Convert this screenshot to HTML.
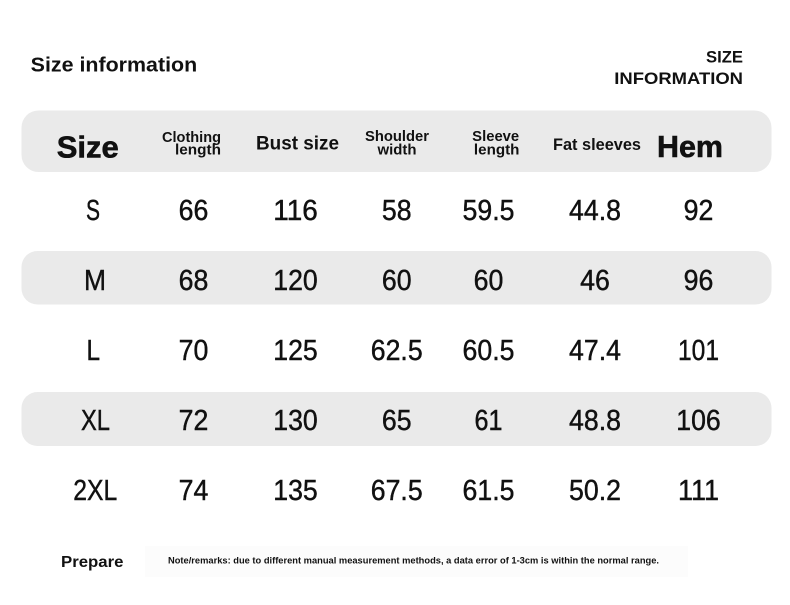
<!DOCTYPE html>
<html>
<head>
<meta charset="utf-8">
<style>
  html,body{margin:0;padding:0;background:#fff;}
  svg{display:block;}
  text{font-family:"Liberation Sans","Noto Sans CJK SC",sans-serif;fill:#111;}
  .b{font-weight:bold;}
  .v text{stroke:#111;stroke-width:0.45px;}
</style>
</head>
<body>
<svg width="790" height="605" viewBox="0 0 790 605" xmlns="http://www.w3.org/2000/svg">
  <rect x="0" y="0" width="790" height="605" fill="#ffffff"/>
  <!-- faint note background -->
  <rect x="145" y="546" width="543" height="31" fill="#fcfcfc"/>

  <!-- bands -->
  <rect x="21.5" y="110.5" width="750" height="61.5" rx="17" ry="17" fill="#eaeaea"/>
  <rect x="21.5" y="251" width="750" height="53.5" rx="16" ry="16" fill="#eaeaea"/>
  <rect x="21.5" y="392" width="750" height="54" rx="16" ry="16" fill="#eaeaea"/>

  <!-- titles -->
  <text class="b" x="30.7" y="71.7" font-size="20.5" textLength="166.5" lengthAdjust="spacingAndGlyphs">Size information</text>
  <text class="b" x="743" y="62.3" font-size="16.5" text-anchor="end" textLength="37" lengthAdjust="spacingAndGlyphs">SIZE</text>
  <text class="b" x="743" y="84" font-size="16.5" text-anchor="end" textLength="128.7" lengthAdjust="spacingAndGlyphs">INFORMATION</text>

  <!-- header -->
  <text class="b" x="56.7" y="157.3" font-size="31" textLength="62" lengthAdjust="spacingAndGlyphs" stroke="#111" stroke-width="0.6">Size</text>
  <text class="b" x="221" y="142" font-size="14.5" text-anchor="end" textLength="59" lengthAdjust="spacingAndGlyphs">Clothing</text>
  <text class="b" x="221" y="154.5" font-size="14.5" text-anchor="end" textLength="46" lengthAdjust="spacingAndGlyphs">length</text>
  <text class="b" x="256" y="149.5" font-size="19.5" textLength="83" lengthAdjust="spacingAndGlyphs">Bust size</text>
  <text class="b" x="397" y="141" font-size="14.5" text-anchor="middle" textLength="64" lengthAdjust="spacingAndGlyphs">Shoulder</text>
  <text class="b" x="397" y="154.5" font-size="14.5" text-anchor="middle" textLength="39" lengthAdjust="spacingAndGlyphs">width</text>
  <text class="b" x="495.7" y="141" font-size="14.5" text-anchor="middle" textLength="47" lengthAdjust="spacingAndGlyphs">Sleeve</text>
  <text class="b" x="496.7" y="154.5" font-size="14.5" text-anchor="middle" textLength="45.5" lengthAdjust="spacingAndGlyphs">length</text>
  <text class="b" x="553" y="150" font-size="17" textLength="88" lengthAdjust="spacingAndGlyphs">Fat sleeves</text>
  <text class="b" x="657" y="157" font-size="30.5" textLength="66" lengthAdjust="spacingAndGlyphs" stroke="#111" stroke-width="0.6">Hem</text>

  <!-- row S -->
  <g class="v">
    <text x="93" y="220" text-anchor="middle" font-size="29" textLength="14" lengthAdjust="spacingAndGlyphs">S</text>
    <text x="193.5" y="220" text-anchor="middle" font-size="29" textLength="29.7" lengthAdjust="spacingAndGlyphs">66</text>
    <text x="295.5" y="220" text-anchor="middle" font-size="29" textLength="44.5" lengthAdjust="spacingAndGlyphs">116</text>
    <text x="396.7" y="220" text-anchor="middle" font-size="29" textLength="29.7" lengthAdjust="spacingAndGlyphs">58</text>
    <text x="488.5" y="220" text-anchor="middle" font-size="29" textLength="51.9" lengthAdjust="spacingAndGlyphs">59.5</text>
    <text x="595" y="220" text-anchor="middle" font-size="29" textLength="51.9" lengthAdjust="spacingAndGlyphs">44.8</text>
    <text x="698.5" y="220" text-anchor="middle" font-size="29" textLength="29.7" lengthAdjust="spacingAndGlyphs">92</text>
  </g>
  <!-- row M -->
  <g class="v">
    <text x="95" y="290" text-anchor="middle" font-size="29" textLength="22" lengthAdjust="spacingAndGlyphs">M</text>
    <text x="193.5" y="290" text-anchor="middle" font-size="29" textLength="29.7" lengthAdjust="spacingAndGlyphs">68</text>
    <text x="295.5" y="290" text-anchor="middle" font-size="29" textLength="44.5" lengthAdjust="spacingAndGlyphs">120</text>
    <text x="396.7" y="290" text-anchor="middle" font-size="29" textLength="29.7" lengthAdjust="spacingAndGlyphs">60</text>
    <text x="488.5" y="290" text-anchor="middle" font-size="29" textLength="29.7" lengthAdjust="spacingAndGlyphs">60</text>
    <text x="595" y="290" text-anchor="middle" font-size="29" textLength="29.7" lengthAdjust="spacingAndGlyphs">46</text>
    <text x="698.5" y="290" text-anchor="middle" font-size="29" textLength="29.7" lengthAdjust="spacingAndGlyphs">96</text>
  </g>
  <!-- row L -->
  <g class="v">
    <text x="93.3" y="360" text-anchor="middle" font-size="29" textLength="13.5" lengthAdjust="spacingAndGlyphs">L</text>
    <text x="193.5" y="360" text-anchor="middle" font-size="29" textLength="29.7" lengthAdjust="spacingAndGlyphs">70</text>
    <text x="295.5" y="360" text-anchor="middle" font-size="29" textLength="44.5" lengthAdjust="spacingAndGlyphs">125</text>
    <text x="396.7" y="360" text-anchor="middle" font-size="29" textLength="51.9" lengthAdjust="spacingAndGlyphs">62.5</text>
    <text x="488.5" y="360" text-anchor="middle" font-size="29" textLength="51.9" lengthAdjust="spacingAndGlyphs">60.5</text>
    <text x="595" y="360" text-anchor="middle" font-size="29" textLength="51.9" lengthAdjust="spacingAndGlyphs">47.4</text>
    <text x="698.5" y="360" text-anchor="middle" font-size="29" textLength="41" lengthAdjust="spacingAndGlyphs">101</text>
  </g>
  <!-- row XL -->
  <g class="v">
    <text x="95.5" y="430" text-anchor="middle" font-size="29" textLength="29" lengthAdjust="spacingAndGlyphs">XL</text>
    <text x="193.5" y="430" text-anchor="middle" font-size="29" textLength="29.7" lengthAdjust="spacingAndGlyphs">72</text>
    <text x="295.5" y="430" text-anchor="middle" font-size="29" textLength="44.5" lengthAdjust="spacingAndGlyphs">130</text>
    <text x="396.7" y="430" text-anchor="middle" font-size="29" textLength="29.7" lengthAdjust="spacingAndGlyphs">65</text>
    <text x="488.5" y="430" text-anchor="middle" font-size="29" textLength="28" lengthAdjust="spacingAndGlyphs">61</text>
    <text x="595" y="430" text-anchor="middle" font-size="29" textLength="51.9" lengthAdjust="spacingAndGlyphs">48.8</text>
    <text x="698.5" y="430" text-anchor="middle" font-size="29" textLength="44.5" lengthAdjust="spacingAndGlyphs">106</text>
  </g>
  <!-- row 2XL -->
  <g class="v">
    <text x="95.3" y="500" text-anchor="middle" font-size="29" textLength="44" lengthAdjust="spacingAndGlyphs">2XL</text>
    <text x="193.5" y="500" text-anchor="middle" font-size="29" textLength="29.7" lengthAdjust="spacingAndGlyphs">74</text>
    <text x="295.5" y="500" text-anchor="middle" font-size="29" textLength="44.5" lengthAdjust="spacingAndGlyphs">135</text>
    <text x="396.7" y="500" text-anchor="middle" font-size="29" textLength="51.9" lengthAdjust="spacingAndGlyphs">67.5</text>
    <text x="488.5" y="500" text-anchor="middle" font-size="29" textLength="51.9" lengthAdjust="spacingAndGlyphs">61.5</text>
    <text x="595" y="500" text-anchor="middle" font-size="29" textLength="51.9" lengthAdjust="spacingAndGlyphs">50.2</text>
    <text x="698.5" y="500" text-anchor="middle" font-size="29" textLength="41" lengthAdjust="spacingAndGlyphs">111</text>
  </g>

  <!-- footer -->
  <text class="b" x="61" y="567" font-size="16" textLength="62.5" lengthAdjust="spacingAndGlyphs">Prepare</text>
  <text class="b" x="168" y="563.5" font-size="8.8" textLength="491" lengthAdjust="spacingAndGlyphs">Note/remarks: due to different manual measurement methods, a data error of 1-3cm is within the normal range.</text>
</svg>
</body>
</html>
